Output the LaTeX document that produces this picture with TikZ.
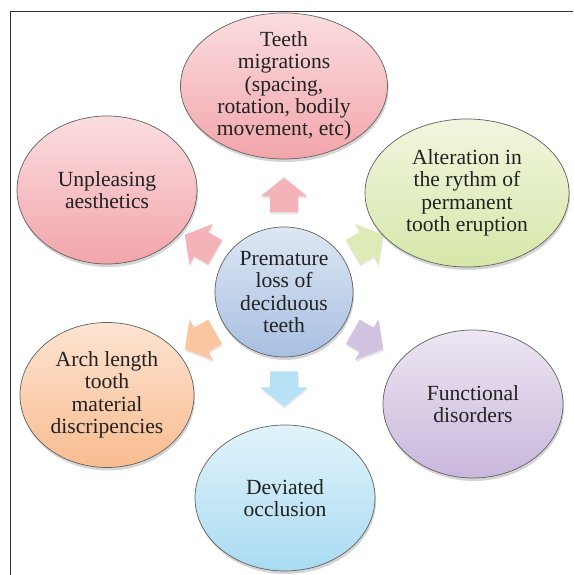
\documentclass[tikz,border=0pt]{standalone}
\usepackage{fontspec}
\setmainfont{Liberation Serif}
\newfontfamily\tnrfont{Liberation Serif}
\usetikzlibrary{shapes.geometric,shadows}
\definecolor{pinkT}{HTML}{FADDE0}
\definecolor{pinkB}{HTML}{F2A5AB}
\definecolor{greenT}{HTML}{F1F6DF}
\definecolor{greenB}{HTML}{D6E7A9}
\definecolor{blueT}{HTML}{DDE7F3}
\definecolor{blueB}{HTML}{A8BFE2}
\definecolor{orangeT}{HTML}{FDE4D2}
\definecolor{orangeB}{HTML}{F8BC90}
\definecolor{purpleT}{HTML}{EDE6F2}
\definecolor{purpleB}{HTML}{C9B7DB}
\definecolor{lblueT}{HTML}{E1F3FB}
\definecolor{lblueB}{HTML}{A9DBF1}
\definecolor{txtcol}{HTML}{222222}
\begin{document}
\begin{tikzpicture}[x=1pt,y=1pt,
  bubble/.style={ellipse, draw=black!62, line width=0.7pt, inner sep=0pt,
    drop shadow={shadow xshift=1pt, shadow yshift=-3pt, opacity=0.3, fill=black!55}},
  txt/.style={align=center, font=\tnrfont\fontsize{21.6}{22.4}\selectfont, text=txtcol, inner sep=0pt},
  blockarrow/.style={drop shadow={shadow xshift=0.5pt, shadow yshift=-2pt, opacity=0.18, fill=black!50}}
]
\useasboundingbox (0,0) rectangle (573,575);
\draw[black!80, line width=0.8pt] (10,0) -- (10,564) -- (573,564);

% arrows
\foreach \a/\ct/\cb in {90/pinkT/pinkB,150/pinkT/pinkB,30/greenT/greenB,210/orangeT/orangeB,330/purpleT/purpleB,270/lblueT/lblueB}{
  \begin{scope}[shift={(284,283)}, rotate=\a]
    \fill[blockarrow, \cb!75!\ct]
      (79.5,-14) -- (95.5,-14) -- (95.5,-23.5) -- (114.5,0) -- (95.5,23.5) -- (95.5,14) -- (79.5,14) -- cycle;
  \end{scope}
}

% ellipses
\node[bubble, minimum width=207pt, minimum height=146pt, top color=pinkT, bottom color=pinkB] (e1) at (284,489) {};
\node[txt] (t1) at (e1.center) {Teeth\\migrations\\(spacing,\\rotation, bodily\\movement, etc)};

\node[bubble, minimum width=180pt, minimum height=148pt, top color=pinkT, bottom color=pinkB] (e2) at (107,385) {};
\node[txt] (t2) at (e2.center) {Unpleasing\\aesthetics};

\node[bubble, minimum width=204pt, minimum height=148pt, top color=greenT, bottom color=greenB] (e3) at (467,382) {};
\node[txt] (t3) at (e3.center) {Alteration in\\the rythm of\\permanent\\tooth eruption};

\node[bubble, minimum width=174pt, minimum height=145pt, top color=orangeT, bottom color=orangeB] (e4) at (107,180) {};
\node[txt] (t4) at (e4.center) {Arch length\\tooth\\material\\discripencies};

\node[bubble, minimum width=180pt, minimum height=148pt, top color=purpleT, bottom color=purpleB] (e5) at (473,171) {};
\node[txt] (t5) at (e5.center) {Functional\\disorders};

\node[bubble, minimum width=180pt, minimum height=146pt, top color=lblueT, bottom color=lblueB] (e6) at (285,77) {};
\node[txt] (t6) at (e6.center) {Deviated\\occlusion};

\node[bubble, minimum width=138pt, minimum height=130pt, top color=blueT, bottom color=blueB] (c) at (284,283) {};
\node[txt] (tc) at (c.center) {Premature\\loss of\\deciduous\\teeth};
\end{tikzpicture}
\end{document}
